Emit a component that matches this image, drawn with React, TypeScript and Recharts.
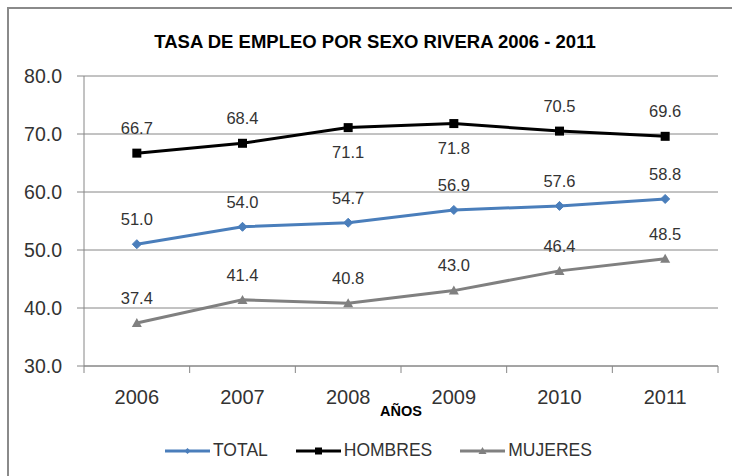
import React from 'react';
import { LineChart, Line, XAxis, YAxis, CartesianGrid, Legend, LabelList, Label } from 'recharts';

const years = ['2006', '2007', '2008', '2009', '2010', '2011'];
const total = [51.0, 54.0, 54.7, 56.9, 57.6, 58.8];
const hombres = [66.7, 68.4, 71.1, 71.8, 70.5, 69.6];
const mujeres = [37.4, 41.4, 40.8, 43.0, 46.4, 48.5];
const yTicks = [30, 40, 50, 60, 70, 80];

const data = years.map((y, i) => ({ year: y, total: total[i], hombres: hombres[i], mujeres: mujeres[i] }));

const FONT = '"Liberation Sans", Arial, sans-serif';
const AXIS = '#868686';
const TEXT = '#333333';
const BLUE = '#4A7EBB';
const GRAY = '#808080';

const Diamond = (props: any) => {
  const { cx, cy } = props;
  if (cx == null || cy == null) return null;
  const r = 4.5;
  return <path d={`M${cx},${cy - r}L${cx + r},${cy}L${cx},${cy + r}L${cx - r},${cy}Z`} fill={BLUE} stroke={BLUE} />;
};
const Square = (props: any) => {
  const { cx, cy } = props;
  if (cx == null || cy == null) return null;
  const r = 4.5;
  return <rect x={cx - r} y={cy - r} width={2 * r} height={2 * r} fill="#000" />;
};
const Triangle = (props: any) => {
  const { cx, cy } = props;
  if (cx == null || cy == null) return null;
  const r = 5;
  return <path d={`M${cx},${cy - r}L${cx + r},${cy + r * 0.8}L${cx - r},${cy + r * 0.8}Z`} fill={GRAY} />;
};

const makeLabel = (below: number[]) => (props: any) => {
  const { x, y, value, index } = props;
  if (x == null || y == null) return null;
  const dy = below.includes(index) ? 25 : -25;
  return (
    <text x={x} y={y + dy} dy="0.355em" textAnchor="middle" fontFamily={FONT} fontSize={16.5} fill={TEXT}>
      {Number(value).toFixed(1)}
    </text>
  );
};

const XTick = (props: any) => {
  const { x, y, payload, index, visibleTicksCount } = props;
  const half = payload && payload.offset ? payload.offset : 634 / 12;
  const last = index === (visibleTicksCount ?? 6) - 1;
  return (
    <g>
      <line x1={x - half} x2={x - half} y1={y} y2={y + 7} stroke={AXIS} />
      {last && <line x1={x + half} x2={x + half} y1={y} y2={y + 7} stroke={AXIS} />}
      <text x={x} y={y + 31} dy="0.355em" textAnchor="middle" fontFamily={FONT} fontSize={20} fill={TEXT}>
        {payload.value}
      </text>
    </g>
  );
};

const legendItems = [
  { name: 'TOTAL', color: BLUE, marker: 'diamond' },
  { name: 'HOMBRES', color: '#000', marker: 'square' },
  { name: 'MUJERES', color: GRAY, marker: 'triangle' },
];

const LegendContent = () => (
  <div style={{ display: 'flex', alignItems: 'center', paddingLeft: 165, fontFamily: FONT, fontSize: 17.5, color: TEXT }}>
    {legendItems.map((it) => (
      <div key={it.name} style={{ display: 'flex', alignItems: 'center', marginRight: 28 }}>
        <svg width={45} height={12} style={{ marginRight: 3 }}>
          <line x1={0} x2={45} y1={6} y2={6} stroke={it.color} strokeWidth={3} />
          {it.marker === 'diamond' && <path d="M22.5,3L25.5,6L22.5,9L19.5,6Z" fill={it.color} />}
          {it.marker === 'square' && <rect x={19} y={2.5} width={7} height={7} fill={it.color} />}
          {it.marker === 'triangle' && <path d="M22.5,2L26.5,9L18.5,9Z" fill={it.color} />}
        </svg>
        <span>{it.name}</span>
      </div>
    ))}
  </div>
);

export default function App() {
  return (
    <div style={{ position: 'fixed', left: 0, top: 0, width: 732, height: 476, overflow: 'hidden', background: '#fff' }}>
      <div style={{ position: 'absolute', left: 7, top: 7, width: 800, height: 520, border: '2px solid #8a8a8a', boxSizing: 'border-box' }} />
      <div style={{ position: 'absolute', left: 0, top: 32, width: 750, textAlign: 'center', fontFamily: FONT, fontWeight: 'bold', fontSize: 18.5, lineHeight: '20px', color: '#000' }}>
        TASA DE EMPLEO POR SEXO RIVERA 2006 - 2011
      </div>
      <div style={{ position: 'absolute', left: 0, top: 0 }}>
        <LineChart width={732} height={476} data={data} margin={{ top: 76, right: 14, left: 0, bottom: 70 }}>
          <CartesianGrid vertical={false} stroke={AXIS} strokeWidth={1} />
          <XAxis
            dataKey="year"
            scale="band"
            height={40}
            tickLine={false}
            tickSize={0}
            tickMargin={0}
            axisLine={{ stroke: AXIS }}
            tick={<XTick />}
            interval={0}
          >
            <Label value="AÑOS" position="insideBottom" offset={-10} fontFamily={FONT} fontWeight="bold" fontSize={14.5} fill="#000" />
          </XAxis>
          <YAxis
            width={84}
            domain={[30, 80]}
            ticks={yTicks}
            interval={0}
            tickFormatter={(v: number) => v.toFixed(1)}
            tickSize={7}
            tickMargin={15}
            tickLine={{ stroke: AXIS }}
            axisLine={{ stroke: AXIS }}
            tick={{ fontFamily: FONT, fontSize: 19.5, fill: TEXT }}
          />
          <Legend verticalAlign="middle" layout="horizontal" content={<LegendContent />} wrapperStyle={{ top: 440, left: 0, width: 732 }} />
          <Line type="linear" dataKey="total" name="TOTAL" stroke={BLUE} strokeWidth={3} dot={<Diamond />} isAnimationActive={false}>
            <LabelList dataKey="total" content={makeLabel([])} />
          </Line>
          <Line type="linear" dataKey="hombres" name="HOMBRES" stroke="#000" strokeWidth={3} dot={<Square />} isAnimationActive={false}>
            <LabelList dataKey="hombres" content={makeLabel([2, 3])} />
          </Line>
          <Line type="linear" dataKey="mujeres" name="MUJERES" stroke={GRAY} strokeWidth={3} dot={<Triangle />} isAnimationActive={false}>
            <LabelList dataKey="mujeres" content={makeLabel([])} />
          </Line>
        </LineChart>
      </div>
    </div>
  );
}
